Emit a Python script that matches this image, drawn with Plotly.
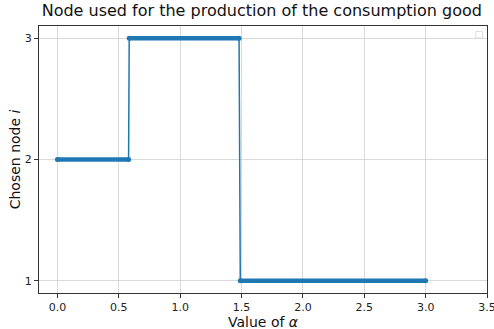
import plotly.graph_objects as go

# Chosen node for each alpha interval (step function)
seg_start = [0.0, 0.585, 1.49]
seg_end = [0.58, 1.48, 3.0]
seg_node = [2, 3, 1]

x_ticks = [0.0, 0.5, 1.0, 1.5, 2.0, 2.5, 3.0, 3.5]
y_ticks = [1, 2, 3]

BLUE = "#1f77b4"

# thin connecting line through all segment ends
xs, ys = [], []
for s, e, n in zip(seg_start, seg_end, seg_node):
    xs += [s, e]
    ys += [n, n]

# thick horizontal segments
xt, yt = [], []
for s, e, n in zip(seg_start, seg_end, seg_node):
    xt += [s, e, None]
    yt += [n, n, None]

fig = go.Figure()
fig.add_trace(go.Scatter(x=xs, y=ys, mode="lines",
                         line=dict(color=BLUE, width=1.5), showlegend=False))
fig.add_trace(go.Scatter(x=xt, y=yt, mode="lines+markers",
                         line=dict(color=BLUE, width=4.5),
                         marker=dict(color=BLUE, size=5), showlegend=False))

font = "DejaVu Sans, sans-serif"
axis_common = dict(showgrid=True, gridcolor="#d9d9d9", gridwidth=1,
                   showline=True, linecolor="#333333", linewidth=1, mirror=True,
                   ticks="outside", ticklen=4, tickcolor="#333333",
                   tickfont=dict(family=font, size=11, color="#222222"),
                   ticklabeloverflow="allow",
                   zeroline=False, automargin=False)

fig.update_layout(
    width=494, height=329,
    margin=dict(l=39, r=7, t=26, b=36),
    paper_bgcolor="white", plot_bgcolor="white",
    title=dict(text="Node used for the production of the consumption good",
               x=0.53, xanchor="center", y=0.985, yanchor="top",
               font=dict(family=font, size=16, color="#111111")),
    xaxis=dict(range=[-0.15, 3.5], tickvals=x_ticks,
               ticktext=[f"{v:.1f}" for v in x_ticks], **axis_common),
    yaxis=dict(range=[0.9, 3.1], tickvals=y_ticks,
               ticktext=[str(v) for v in y_ticks], **axis_common),
    annotations=[
        dict(text="Value of <i>α</i>", xref="paper", yref="paper",
             x=0.5, y=-0.108, xanchor="center", yanchor="middle", showarrow=False,
             font=dict(family=font, size=14, color="#111111")),
        dict(text="Chosen node <i>i</i>", xref="paper", yref="paper",
             x=-0.054, y=0.5, xanchor="center", yanchor="middle", textangle=-90,
             showarrow=False, font=dict(family=font, size=14, color="#111111")),
    ],
    shapes=[dict(type="rect", xref="paper", yref="paper",
                 x0=0.975, x1=0.99, y0=0.955, y1=0.98,
                 line=dict(color="#dddddd", width=1))],
)

fig.write_html("out.html")
